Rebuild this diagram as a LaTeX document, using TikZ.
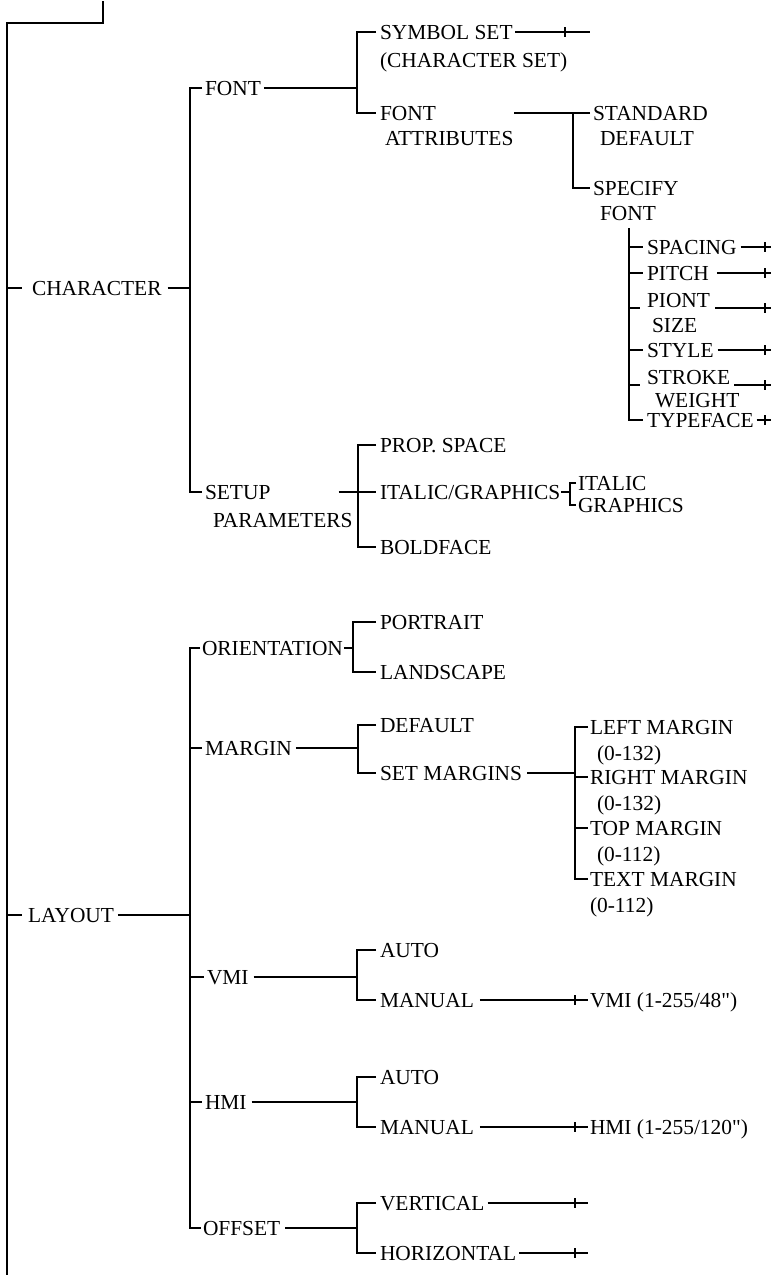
\documentclass[tikz,border=0pt]{standalone}
\usepackage{fontspec}
\setmainfont{Liberation Serif}[Ligatures=TeXOff]
\newcommand\fsz{\fontsize{21.4pt}{26pt}\selectfont}
\newcommand\twol[3][0pt]{\begin{tabular}[t]{@{}l@{}}#2\\[#1]#3\end{tabular}}
\begin{document}
\begin{tikzpicture}[x=1pt,y=-1pt,
  lbl/.style={anchor=base west,inner sep=0pt,outer sep=0pt,font=\fsz},
  conn/.style={line width=1.1pt,line cap=butt,line join=miter},
]
\useasboundingbox (0,0) rectangle (773,1275);

% ---------- labels ----------
\node[lbl] (character) at (32,295) {CHARACTER};
\node[lbl] (font) at (205,95) {FONT};
\node[lbl] (symset) at (380,39) {\twol[2pt]{SYMBOL SET}{(CHARACTER SET)}};
\node[lbl] (fattr) at (380,120) {\twol[-1pt]{FONT}{\hspace{5pt}ATTRIBUTES}};
\node[lbl] (stddef) at (593,120) {\twol[-1pt]{STANDARD}{\hspace{7pt}DEFAULT}};
\node[lbl] (specify) at (593,195) {\twol[-1pt]{SPECIFY}{\hspace{7pt}FONT}};
\node[lbl] (spacing) at (647,254) {SPACING};
\node[lbl] (pitch) at (647,280) {PITCH};
\node[lbl] (piont) at (647,307) {\twol[-1pt]{PIONT}{\hspace{5pt}SIZE}};
\node[lbl] (style) at (647,357) {STYLE};
\node[lbl] (stroke) at (647,384) {\twol[-3pt]{STROKE}{\hspace{8pt}WEIGHT}};
\node[lbl] (typeface) at (647,427) {TYPEFACE};
\node[lbl] (setup) at (205,499) {\twol[2pt]{SETUP}{\hspace{8pt}PARAMETERS}};
\node[lbl] (prop) at (380,452) {PROP. SPACE};
\node[lbl] (italgr) at (380,499) {ITALIC/GRAPHICS};
\node[lbl] (bold) at (380,554) {BOLDFACE};
\node[lbl] (italic) at (578,490) {ITALIC};
\node[lbl] (graphics) at (578,512) {GRAPHICS};
\node[lbl] (layout) at (28,922) {LAYOUT};
\node[lbl] (orient) at (202,655) {ORIENTATION};
\node[lbl] (portrait) at (380,629) {PORTRAIT};
\node[lbl] (landscape) at (380,679) {LANDSCAPE};
\node[lbl] (margin) at (205,755) {MARGIN};
\node[lbl] (default) at (380,732) {DEFAULT};
\node[lbl] (setmarg) at (380,780) {SET MARGINS};
\node[lbl] (lm) at (590,734) {\twol{LEFT MARGIN}{\hspace{7pt}(0-132)}};
\node[lbl] (rm) at (590,784) {\twol{RIGHT MARGIN}{\hspace{7pt}(0-132)}};
\node[lbl] (tm) at (590,835) {\twol{TOP MARGIN}{\hspace{7pt}(0-112)}};
\node[lbl] (xm) at (590,886) {\twol{TEXT MARGIN}{(0-112)}};
\node[lbl] (vmi) at (207,984) {VMI};
\node[lbl] (vauto) at (380,957) {AUTO};
\node[lbl] (vman) at (380,1007) {MANUAL};
\node[lbl] (vmival) at (590,1007) {VMI (1-255/48")};
\node[lbl] (hmi) at (205,1109) {HMI};
\node[lbl] (hauto) at (380,1084) {AUTO};
\node[lbl] (hman) at (380,1134) {MANUAL};
\node[lbl] (hmival) at (590,1134) {HMI (1-255/120")};
\node[lbl] (offset) at (203,1235) {OFFSET};
\node[lbl] (vert) at (380,1210) {VERTICAL};
\node[lbl] (horiz) at (380,1260) {HORIZONTAL};

% attach points at the middle of the first line of each label
\foreach \n in {character,font,symset,fattr,stddef,specify,spacing,pitch,piont,style,stroke,typeface,setup,prop,italgr,bold,italic,graphics,layout,orient,portrait,landscape,margin,default,setmarg,lm,rm,tm,xm,vmi,vauto,vman,vmival,hmi,hauto,hman,hmival,offset,vert,horiz}{
  \coordinate (\n-l) at ([yshift=7pt]\n.base west);
  \coordinate (\n-r) at ([yshift=7pt]\n.base east);
}

% junction columns
\coordinate (rootTop) at (103,1);
\coordinate (rootCorner) at (103,23);
\coordinate (spineTop) at (7,23);
\coordinate (spineBot) at (7,1275);
\coordinate (xFont) at (190,0);
\coordinate (xFontBr) at (357,0);
\coordinate (xAttr) at (573,0);
\coordinate (spcTop) at (629,228);
\coordinate (xSetup) at (358,0);
\coordinate (xItal) at (570,0);
\coordinate (xOri) at (353,0);
\coordinate (xMarg) at (358,0);
\coordinate (xSetM) at (575,0);
\coordinate (xVH) at (357,0);
\coordinate (symEnd) at (590,0);
\coordinate (symTick) at (565,0);
\coordinate (spcEnd) at (771,0);
\coordinate (spcTick) at (765,0);
\coordinate (vhTick) at (575,0);
\coordinate (offEnd) at (588,0);
\coordinate (piontJ) at ([yshift=-8pt]piont-l);
\coordinate (piontR) at ([xshift=5pt,yshift=-8pt]piont-r);
\coordinate (strokeJ) at ([yshift=-8pt]stroke-l);
\coordinate (strokeR) at ([xshift=-5pt,yshift=-8pt]stroke-r);

% ---------- connectors ----------
\draw[conn] (rootTop) -- (rootCorner) -- (spineTop) -- (spineBot);
\draw[conn] (spineTop |- character-l) -- ([xshift=-10pt]character-l);
\draw[conn] (spineTop |- layout-l) -- ([xshift=-6pt]layout-l);

% CHARACTER
\draw[conn] ([xshift=6pt]character-r) -- (xFont |- character-l);
\draw[conn] ([xshift=-3pt]font-l) -| (xFont |- setup-l) -- ([xshift=-3pt]setup-l);

% FONT
\draw[conn] ([xshift=3pt]font-r) -- (xFontBr |- font-r);
\draw[conn] ([xshift=-4pt]symset-l) -| (xFontBr |- fattr-l) -- ([xshift=-4pt]fattr-l);
\draw[conn] ([xshift=135pt]symset-l) -- (symEnd |- symset-l);
\draw[conn] (symTick |- symset-l) +(0,-5) -- +(0,5);
\draw[conn] ([xshift=1pt]fattr-r) -- (xAttr |- fattr-r);
\draw[conn] ([xshift=-3pt]stddef-l) -| (xAttr |- specify-l) -- ([xshift=-3pt]specify-l);

% SPECIFY FONT list
\draw[conn] (spcTop) |- ([xshift=-4pt]typeface-l);
\foreach \n in {spacing,pitch,style}{
  \draw[conn] (spcTop |- \n-l) -- ([xshift=-4pt]\n-l);
}
\draw[conn] (spcTop |- piontJ) -- ([xshift=-7pt]piontJ);
\draw[conn] (spcTop |- strokeJ) -- ([xshift=-7pt]strokeJ);
\draw[conn] ([xshift=4pt]spacing-r) -- (spcEnd |- spacing-r);
\draw[conn] ([xshift=8pt]pitch-r) -- (spcEnd |- pitch-r);
\draw[conn] (piontR) -- (spcEnd |- piontR);
\draw[conn] ([xshift=4pt]style-r) -- (spcEnd |- style-r);
\draw[conn] (strokeR) -- (spcEnd |- strokeR);
\draw[conn] ([xshift=3pt]typeface-r) -- (spcEnd |- typeface-r);
\foreach \p in {spacing-r,pitch-r,piontR,style-r,strokeR,typeface-r}{
  \draw[conn] (spcTick |- \p) +(0,-5) -- +(0,5);
}

% SETUP PARAMETERS
\draw[conn] ([xshift=-14pt]setup-r) -- ([xshift=-4pt]italgr-l);
\draw[conn] ([xshift=-4pt]prop-l) -| (xSetup |- bold-l) -- ([xshift=-4pt]bold-l);
\draw[conn] ([xshift=1pt]italgr-r) -- (xItal |- italgr-r);
\draw[conn] ([xshift=-2pt]italic-l) -| (xItal |- graphics-l) -- ([xshift=-2pt]graphics-l);

% LAYOUT
\draw[conn] ([xshift=4pt]layout-r) -- (xFont |- layout-r);
\draw[conn] ([xshift=-2pt]orient-l) -| (xFont |- offset-l) -- ([xshift=-2pt]offset-l);
\foreach \n in {margin,vmi,hmi}{
  \draw[conn] (xFont |- \n-l) -- ([xshift=-3pt]\n-l);
}

% ORIENTATION
\draw[conn] ([xshift=1pt]orient-r) -- (xOri |- orient-r);
\draw[conn] ([xshift=-4pt]portrait-l) -| (xOri |- landscape-l) -- ([xshift=-4pt]landscape-l);

% MARGIN
\draw[conn] ([xshift=4pt]margin-r) -- (xMarg |- margin-r);
\draw[conn] ([xshift=-4pt]default-l) -| (xMarg |- setmarg-l) -- ([xshift=-4pt]setmarg-l);
\draw[conn] ([xshift=5pt]setmarg-r) -- (xSetM |- setmarg-r);
\draw[conn] ([xshift=-2pt]lm-l) -| (xSetM |- xm-l) -- ([xshift=-2pt]xm-l);
\foreach \n in {rm,tm}{
  \draw[conn] (xSetM |- \n-l) -- ([xshift=-2pt]\n-l);
}

% VMI
\draw[conn] ([xshift=5pt]vmi-r) -- (xVH |- vmi-r);
\draw[conn] ([xshift=-4pt]vauto-l) -| (xVH |- vman-l) -- ([xshift=-4pt]vman-l);
\draw[conn] ([xshift=6pt]vman-r) -- ([xshift=-2pt]vmival-l);
\draw[conn] (vhTick |- vman-r) +(0,-5) -- +(0,5);

% HMI
\draw[conn] ([xshift=5pt]hmi-r) -- (xVH |- hmi-r);
\draw[conn] ([xshift=-4pt]hauto-l) -| (xVH |- hman-l) -- ([xshift=-4pt]hman-l);
\draw[conn] ([xshift=6pt]hman-r) -- ([xshift=-2pt]hmival-l);
\draw[conn] (vhTick |- hman-r) +(0,-5) -- +(0,5);

% OFFSET
\draw[conn] ([xshift=5pt]offset-r) -- (xVH |- offset-r);
\draw[conn] ([xshift=-4pt]vert-l) -| (xVH |- horiz-l) -- ([xshift=-4pt]horiz-l);
\draw[conn] ([xshift=3pt]vert-r) -- (offEnd |- vert-r);
\draw[conn] ([xshift=3pt]horiz-r) -- (offEnd |- horiz-r);
\draw[conn] (vhTick |- vert-r) +(0,-5) -- +(0,5);
\draw[conn] (vhTick |- horiz-r) +(0,-5) -- +(0,5);
\end{tikzpicture}
\end{document}
